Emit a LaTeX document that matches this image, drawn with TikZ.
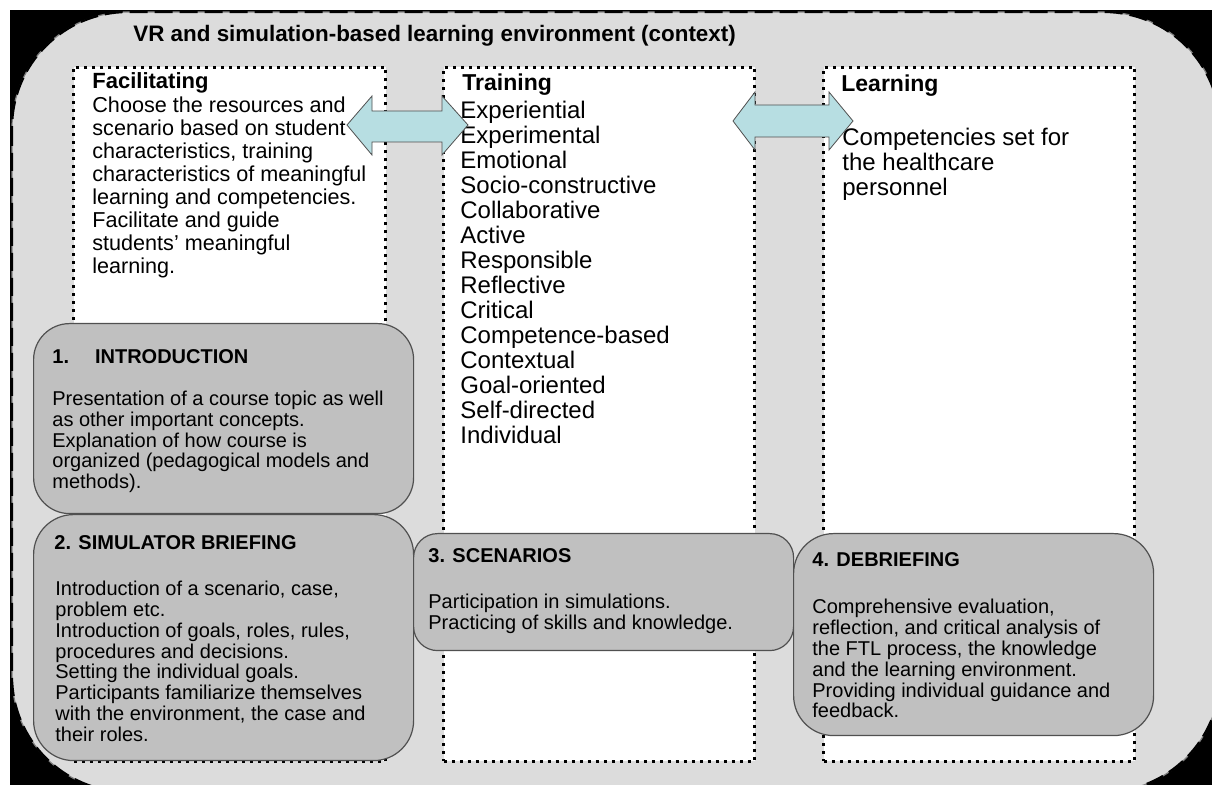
\documentclass[tikz,border=0pt]{standalone}
\usepackage{fontspec}
\setmainfont{Liberation Sans}
\usetikzlibrary{positioning}
\definecolor{ctxgray}{RGB}{220,220,220}
\definecolor{stagegray}{RGB}{192,192,192}
\definecolor{arrowcyan}{RGB}{183,222,226}
\definecolor{edgegray}{RGB}{80,80,80}
\begin{document}
\begin{tikzpicture}[
  x=0.5pt, y=-0.5pt,
  column/.style={rectangle, draw, fill=white, line width=1.5pt, dash pattern=on 1.5pt off 2.5pt, anchor=north west, inner sep=0pt, minimum height=347pt},
  stage/.style={rectangle, rounded corners=18pt, draw=edgegray, line width=0.6pt, fill=stagegray, anchor=north west, inner sep=0pt},
  heading/.style={anchor=north west, inner sep=0pt, font=\fontsize{11.5}{13}\selectfont\bfseries},
  listtext/.style={anchor=north west, inner sep=0pt, align=left, font=\fontsize{12}{12.5}\selectfont},
  stagehead/.style={anchor=north west, inner sep=0pt, font=\fontsize{10}{11}\selectfont\bfseries},
  stagetext/.style={anchor=north west, inner sep=0pt, align=left, font=\fontsize{10}{10.4}\selectfont},
  twoway/.style={fill=arrowcyan, draw=edgegray, line width=0.4pt}
]
\useasboundingbox (0,0) rectangle (1212,785);
\clip (0,0) rectangle (1212,785);
\fill[white] (0,0) rectangle (1212,785);
\fill[black] (10,10) rectangle (1212,785);
\draw[fill=ctxgray, draw=gray, line width=0.6pt, rounded corners=58pt] (12,12) rectangle (1220,792);
\draw[line width=1.1pt, dash pattern=on 9pt off 3.5pt, rounded corners=58pt] (12,12) rectangle (1220,792);
\node[anchor=north west, inner sep=0pt, font=\fontsize{11.2}{13}\selectfont\bfseries] (ctxtitle) at (133,25) {VR and simulation-based learning environment (context)};

\node[column, minimum width=156pt] (facil) at (72,66) {};
\node[column, minimum width=155.5pt] (train) at (442,66) {};
\node[column, minimum width=155.5pt] (learn) at (822,66) {};

\node[heading, font=\fontsize{11}{13}\selectfont\bfseries, below right=3.3pt and 10pt of facil.north west] (facilhead) {Facilitating};
\node[listtext, font=\fontsize{10.8}{11.55}\selectfont, below right=15pt and 10pt of facil.north west] (faciltext) {Choose the resources and\\scenario based on student\\characteristics, training\\characteristics of meaningful\\learning and competencies.\\Facilitate and guide\\students' meaningful\\learning.};
\node[heading, below right=3.8pt and 10pt of train.north west] (trainhead) {Training};
\node[listtext, below right=17.5pt and 9pt of train.north west] (traintext) {Experiential\\Experimental\\Emotional\\Socio-constructive\\Collaborative\\Active\\Responsible\\Reflective\\Critical\\Competence-based\\Contextual\\Goal-oriented\\Self-directed\\Individual};
\node[heading, below right=4.3pt and 9.5pt of learn.north west] (learnhead) {Learning};
\node[listtext, below right=30.8pt and 10pt of learn.north west] (learntext) {Competencies set for\\the healthcare\\personnel};

\draw[twoway] (347,125) -- (372,96) -- (372,111) -- (442,111) -- (442,96) -- (468,125) -- (442,155) -- (442,142) -- (372,142) -- (372,155) -- cycle;
\draw[twoway] (733,121) -- (755,92) -- (755,105) -- (829,105) -- (829,92) -- (853,121) -- (829,150) -- (829,137) -- (755,137) -- (755,150) -- cycle;

\node[stage, minimum width=190pt, minimum height=95pt] (intro) at (33,323) {};
\node[stage, minimum width=190pt, minimum height=123pt, rounded corners=20pt] (brief) at (33,514) {};
\node[stage, minimum width=190pt, minimum height=58.5pt, rounded corners=12pt] (scen) at (413,533) {};
\node[stage, minimum width=180pt, minimum height=101pt, rounded corners=20pt] (debrief) at (793,533) {};

\node[stagehead, below right=13.2pt and 9.5pt of intro.north west] (introhead) {1.\hspace{13pt}INTRODUCTION};
\node[stagetext, below right=33.8pt and 9.5pt of intro.north west] (introtext) {Presentation of a course topic as well\\as other important concepts.\\Explanation of how course is\\organized (pedagogical models and\\methods).};
\node[stagehead, below right=10.5pt and 10.5pt of brief.north west] (briefhead) {2. SIMULATOR BRIEFING};
\node[stagetext, below right=33.4pt and 11pt of brief.north west] (brieftext) {Introduction of a scenario, case,\\problem etc.\\Introduction of goals, roles, rules,\\procedures and decisions.\\Setting the individual goals.\\Participants familiarize themselves\\with the environment, the case and\\their roles.};
\node[stagehead, below right=7.5pt and 7.5pt of scen.north west] (scenhead) {3. SCENARIOS};
\node[stagetext, below right=30.5pt and 7.5pt of scen.north west] (scentext) {Participation in simulations.\\Practicing of skills and knowledge.};
\node[stagehead, below right=9.5pt and 9.5pt of debrief.north west] (debriefhead) {4. DEBRIEFING};
\node[stagetext, below right=33pt and 9.5pt of debrief.north west] (debrieftext) {Comprehensive evaluation,\\reflection, and critical analysis of\\the FTL process, the knowledge\\and the learning environment.\\Providing individual guidance and\\feedback.};
\end{tikzpicture}
\end{document}
